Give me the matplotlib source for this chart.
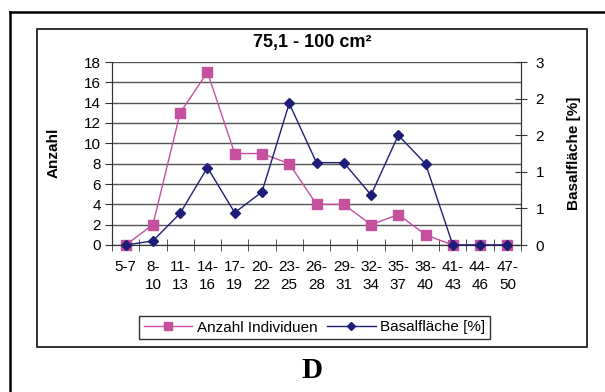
import matplotlib
matplotlib.use("Agg")
import matplotlib.pyplot as plt
from matplotlib.patches import Rectangle
from matplotlib.lines import Line2D
import numpy as np

categories = ["5-7", "8-\n10", "11-\n13", "14-\n16", "17-\n19", "20-\n22", "23-\n25",
              "26-\n28", "29-\n31", "32-\n34", "35-\n37", "38-\n40", "41-\n43", "44-\n46", "47-\n50"]
anzahl = [0, 2, 13, 17, 9, 9, 8, 4, 4, 2, 3, 1, 0, 0, 0]
basal = [0, 0.067, 0.52, 1.27, 0.53, 0.87, 2.32, 1.35, 1.35, 0.82, 1.80, 1.33, 0, 0, 0]
left_ticks = list(range(0, 19, 2))
right_ticks = [0, 0.6, 1.2, 1.8, 2.4, 3.0]
right_labels = ["0", "1", "1", "2", "2", "3"]

W, H = 605, 392
plt.rcParams['font.family'] = ['Liberation Sans', 'DejaVu Sans']
fig = plt.figure(figsize=(W / 100, H / 100), dpi=100)

pink = "#C4509F"
navy = "#1E1E78"

def fx(x): return x / W
def fy(y): return 1 - y / H

# outer frame
fig.add_artist(Line2D([fx(10), fx(10)], [fy(12), 0], color="black", lw=1.8, transform=fig.transFigure))
fig.add_artist(Line2D([fx(10), 1], [fy(12), fy(12)], color="black", lw=1.8, transform=fig.transFigure))
# inner chart frame
fig.add_artist(Rectangle((fx(37), fy(347)), fx(587) - fx(37), fy(29) - fy(347),
                         fill=False, edgecolor="#222222", lw=1.3, transform=fig.transFigure))

ax = fig.add_axes([fx(112), fy(245), fx(521) - fx(112), fy(62) - fy(245)])
x = np.arange(len(categories))
ax.set_xlim(-0.5, len(categories) - 0.5)
ax.set_ylim(0, 18)
ax.set_yticks(left_ticks)
ax.yaxis.grid(True, color="#555555", lw=1.0)
ax.set_axisbelow(True)
ax.tick_params(axis='y', direction='out', length=5, labelsize=11, pad=3, color="#333333")
ax.set_xticks(x)
ax.set_xticklabels(categories, fontsize=11, linespacing=1.3, va='top')
ax.tick_params(axis='x', which='major', length=0, pad=11)
ax.set_xticks(np.arange(-0.5, len(categories), 1), minor=True)
ax.tick_params(axis='x', which='minor', direction='inout', length=8, color="#333333")
for s in ['top']:
    ax.spines[s].set_visible(False)
for s in ['left', 'right', 'bottom']:
    ax.spines[s].set_color("#333333")

l1, = ax.plot(x, anzahl, color=pink, marker='s', markersize=6.5, lw=1.0, clip_on=False, zorder=3,
              label="Anzahl Individuen")

ax2 = ax.twinx()
ax2.set_ylim(0, 3)
ax2.set_yticks(right_ticks)
ax2.set_yticklabels(right_labels)
ax2.tick_params(axis='y', direction='inout', length=9, labelsize=11, pad=6, color="#333333")
ax2.spines['top'].set_visible(False)
for s in ['left', 'right', 'bottom']:
    ax2.spines[s].set_color("#333333")
l2, = ax2.plot(x, basal, color=navy, marker='D', markersize=5, lw=1.0, clip_on=False, zorder=4,
               label="Basalfläche [%]")

fig.text(fx(312), fy(43), "75,1 - 100 cm²", ha='center', va='center', fontsize=13, fontweight='bold')
fig.text(fx(54), fy(153), "Anzahl", ha='center', va='center', rotation=90, fontsize=11, fontweight='bold')
fig.text(fx(574), fy(153), "Basalfläche [%]", ha='center', va='center', rotation=90, fontsize=11, fontweight='bold')

leg = fig.legend([l1, l2], ["Anzahl Individuen", "Basalfläche [%]"], loc='center',
                 bbox_to_anchor=(fx(314.5), fy(327.5)), ncol=2, fontsize=11, frameon=True,
                 fancybox=False, edgecolor="black", handlelength=3.2, handletextpad=0.3,
                 columnspacing=0.6, borderpad=0.3, markerscale=0.9)
leg.get_frame().set_linewidth(1.0)

fig.text(fx(312), fy(371), "D", ha='center', va='center', fontsize=21, fontweight='bold',
         family=['Liberation Serif', 'DejaVu Serif'])

fig.savefig("out.png", dpi=100)
